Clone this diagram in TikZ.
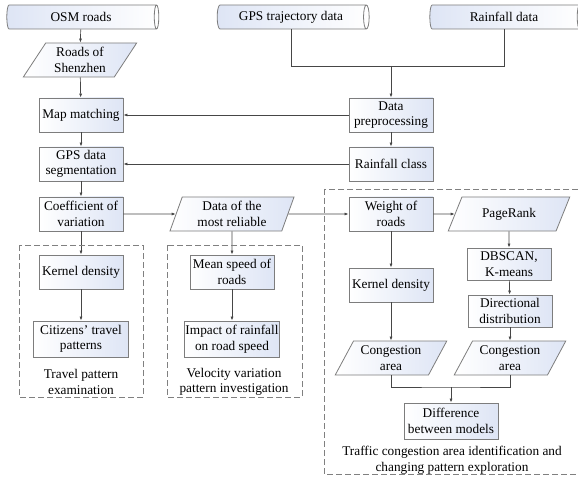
\documentclass[tikz,border=0pt]{standalone}
\usepackage{fontspec}
\setmainfont{Liberation Serif}
\usetikzlibrary{shapes.geometric,arrows.meta}
\definecolor{boxblue}{RGB}{222,229,245}
\definecolor{linegray}{RGB}{70,70,70}
\definecolor{bordergray}{RGB}{125,125,125}
\begin{document}
\begin{tikzpicture}[x=1pt, y=-1pt, font=\fontsize{13.3}{15.5}\selectfont]
  \tikzset{
    proc_node/.style={rectangle, draw=bordergray, line width=0.8pt, left color=white, right color=boxblue, align=center, inner sep=1pt, minimum width=84pt, minimum height=34pt},
    data_node/.style={trapezium, trapezium left angle=60, trapezium right angle=120, trapezium stretches=true, draw=bordergray, line width=0.8pt, left color=white, right color=boxblue, align=center, inner sep=1pt, minimum width=112pt, minimum height=34pt},
    store_node/.style={cylinder, shape aspect=0.4, draw=bordergray, line width=0.8pt, left color=boxblue, right color=white, inner sep=1pt, minimum width=24pt, minimum height=152pt},
    group_box/.style={draw=gray, dash pattern=on 6pt off 3pt, line width=0.8pt},
    link/.style={draw=linegray, line width=0.7pt},
    arrow_link/.style={link, -{Latex[length=4pt, width=3pt]}}
  }

  \useasboundingbox (0,0) rectangle (578,481);

  % Fuentes de datos
  \node[store_node] (osm) at (81,17) {OSM roads};
  \node[store_node] (gps) at (291,17) {GPS trajectory data};
  \node[store_node] (rain) at (504,17) {Rainfall data};

  % Columna izquierda
  \node[data_node, trapezium left angle=57, trapezium right angle=123, minimum width=114pt] (roads) at (80,60) {Roads of\\Shenzhen};
  \node[proc_node] (match) at (81,115) {Map matching};
  \node[proc_node] (seg) at (81,164) {GPS data\\segmentation};
  \node[proc_node] (cov) at (81,214) {Coefficient of\\variation};
  \node[proc_node] (kd_left) at (81,272) {Kernel density};
  \node[proc_node, minimum width=95pt, minimum height=36pt] (travel) at (81,339) {Citizens’ travel\\patterns};

  % Columna central
  \node[data_node, trapezium left angle=72, trapezium right angle=108, minimum width=125pt] (reliable) at (232,214) {Data of the\\most reliable};
  \node[proc_node] (speed) at (232,272) {Mean speed of\\roads};
  \node[proc_node, minimum width=95pt, minimum height=36pt] (impact) at (232,339) {Impact of rainfall\\on road speed};

  % Preprocesado
  \node[proc_node] (prep) at (391,115) {Data\\preprocessing};
  \node[proc_node] (rclass) at (391,164) {Rainfall class};
  \coordinate (join) at (391,66);

  % Columna derecha
  \node[proc_node] (weight) at (391,214) {Weight of\\roads};
  \node[data_node, minimum width=122pt] (rank) at (509,214) {PageRank};
  \node[proc_node] (kd_right) at (391,285) {Kernel density};
  \node[proc_node, minimum height=32pt] (dbscan) at (509,264) {DBSCAN,\\K-means};
  \node[proc_node, minimum height=32pt] (dir) at (510,311) {Directional\\distribution};
  \node[data_node] (cong_left) at (391,358) {Congestion\\area};
  \node[data_node] (cong_right) at (510,358) {Congestion\\area};
  \coordinate (merge) at (451,387);
  \node[proc_node, minimum width=94pt, minimum height=36pt] (diff) at (451,421) {Difference\\between models};

  % Conexiones
  \draw[arrow_link] (osm) -- (roads);
  \draw[arrow_link] (roads) -- (match);
  \draw[arrow_link] (match) -- (seg);
  \draw[arrow_link] (seg) -- (cov);
  \draw[arrow_link] (cov) -- (kd_left);
  \draw[arrow_link] (kd_left) -- (travel);
  \draw[link] (gps.south) |- (join);
  \draw[link] (rain.south) |- (join);
  \draw[arrow_link] (join) -- (prep);
  \draw[arrow_link] (prep) -- (rclass);
  \draw[arrow_link] (prep) -- (match);
  \draw[arrow_link] (rclass) -- (seg);
  \draw[arrow_link] (cov) -- (reliable);
  \draw[arrow_link] (reliable) -- (speed);
  \draw[arrow_link] (speed) -- (impact);
  \draw[arrow_link] (reliable) -- (weight);
  \draw[arrow_link] (weight) -- (rank);
  \draw[arrow_link] (weight) -- (kd_right);
  \draw[arrow_link] (kd_right) -- (cong_left);
  \draw[arrow_link] (rank) -- (dbscan);
  \draw[arrow_link] (dbscan) -- (dir);
  \draw[arrow_link] (dir) -- (cong_right);
  \draw[link] (cong_left.south) |- (merge) -| (cong_right.south);
  \draw[arrow_link] (merge) -- (diff);

  % Grupos
  \draw[group_box] (19,245) rectangle (143,397);
  \draw[group_box] (167,245) rectangle (302,397);
  \draw[group_box] (324,189) rectangle (580,474);
  \node[align=center] (travel_label) at (81,382) {Travel pattern\\examination};
  \node[align=center] (speed_label) at (234,382) {Velocity variation\\pattern investigation};
  \node[align=center] (cong_label) at (452,460) {Traffic congestion area identification and\\changing pattern exploration};
\end{tikzpicture}
\end{document}
